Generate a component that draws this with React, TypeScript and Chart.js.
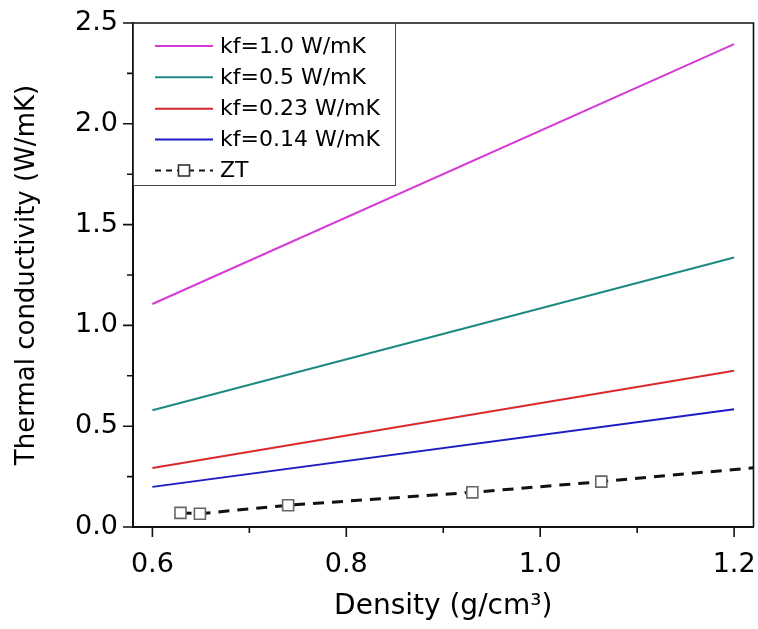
import React, { useEffect, useRef } from 'react';
import { Chart, registerables } from 'chart.js';

Chart.register(...registerables);

// ---- data ----
const densityX = [0.6, 1.2];
const kf10 = [1.106, 2.395];
const kf05 = [0.579, 1.337];
const kf023 = [0.293, 0.775];
const kf014 = [0.199, 0.584];
const ztDensity = [0.629, 0.649, 0.74, 0.93, 1.063];
const ztValues = [0.07, 0.066, 0.108, 0.172, 0.225];
const ztTrendEndX = [1.22];
const ztTrendEndY = [0.294];

const seriesLabels = ['kf=1.0 W/mK', 'kf=0.5 W/mK', 'kf=0.23 W/mK', 'kf=0.14 W/mK', 'ZT'];
const seriesColors = ['#d63ad6', '#1e8a82', '#d82a2a', '#1c1cc4', '#111111'];

const xMajorTicks = [0.6, 0.8, 1.0, 1.2];
const xMinorTicks = [0.7, 0.9, 1.1];
const yMajorTicks = [0, 0.5, 1.0, 1.5, 2.0, 2.5];
const yMinorTicks = [0.25, 0.75, 1.25, 1.75, 2.25];

const FONT = 'DejaVu Sans';

const toPts = (xs: number[], ys: number[]) => xs.map((x, i) => ({ x, y: ys[i] }));

const decorPlugin = {
  id: 'decor',
  afterDraw(chart: any) {
    const { ctx, chartArea: a } = chart;
    const xs = chart.scales.x;
    const ys = chart.scales.y;
    ctx.save();
    // frame top/right
    ctx.strokeStyle = '#111';
    ctx.lineWidth = 1.6;
    ctx.beginPath();
    ctx.moveTo(a.left, a.top);
    ctx.lineTo(a.right, a.top);
    ctx.lineTo(a.right, a.bottom);
    ctx.stroke();
    // ticks
    ctx.lineWidth = 1.6;
    ctx.beginPath();
    xMajorTicks.forEach((v) => {
      const px = xs.getPixelForValue(v);
      ctx.moveTo(px, a.bottom);
      ctx.lineTo(px, a.bottom + 10);
    });
    xMinorTicks.forEach((v) => {
      const px = xs.getPixelForValue(v);
      ctx.moveTo(px, a.bottom);
      ctx.lineTo(px, a.bottom + 6);
    });
    yMajorTicks.forEach((v) => {
      const py = ys.getPixelForValue(v);
      ctx.moveTo(a.left, py);
      ctx.lineTo(a.left - 10, py);
    });
    yMinorTicks.forEach((v) => {
      const py = ys.getPixelForValue(v);
      ctx.moveTo(a.left, py);
      ctx.lineTo(a.left - 6, py);
    });
    ctx.stroke();

    // legend
    const lx = a.left;
    const ly = a.top;
    const lw = 262;
    const lh = 162;
    ctx.fillStyle = '#fff';
    ctx.fillRect(lx, ly, lw, lh);
    ctx.strokeStyle = '#444';
    ctx.lineWidth = 1;
    ctx.strokeRect(lx + 0.5, ly + 0.5, lw, lh);
    const rowY = [46, 77.3, 108.7, 139.5, 170.5];
    ctx.font = `22px "${FONT}"`;
    ctx.textBaseline = 'middle';
    ctx.textAlign = 'left';
    seriesLabels.forEach((label, i) => {
      const y = rowY[i];
      ctx.strokeStyle = seriesColors[i];
      if (i < 4) {
        ctx.lineWidth = 2;
        ctx.setLineDash([]);
        ctx.beginPath();
        ctx.moveTo(155, y);
        ctx.lineTo(213, y);
        ctx.stroke();
      } else {
        ctx.lineWidth = 2;
        ctx.setLineDash([6, 5]);
        ctx.beginPath();
        ctx.moveTo(155, y);
        ctx.lineTo(213, y);
        ctx.stroke();
        ctx.setLineDash([]);
        ctx.fillStyle = '#fff';
        ctx.fillRect(178.5, y - 5.5, 11, 11);
        ctx.strokeStyle = '#333';
        ctx.lineWidth = 1.6;
        ctx.strokeRect(178.5, y - 5.5, 11, 11);
      }
      ctx.fillStyle = '#000';
      ctx.fillText(label, 220, y + 1);
    });
    ctx.restore();
  },
};

export default function App() {
  const ref = useRef<HTMLCanvasElement | null>(null);
  useEffect(() => {
    document.body.style.margin = '0';
    const canvas = ref.current;
    if (!canvas) return;
    Chart.defaults.font.family = FONT;
    const lineDs = (i: number, ys: number[]) => ({
      label: seriesLabels[i],
      data: toPts(densityX, ys),
      borderColor: seriesColors[i],
      backgroundColor: seriesColors[i],
      borderWidth: 2,
      pointRadius: 0,
      fill: false,
      tension: 0,
    });
    const ztLine = toPts([...ztDensity, ...ztTrendEndX], [...ztValues, ...ztTrendEndY]);
    const chart = new Chart(canvas, {
      type: 'scatter',
      data: {
        datasets: [
          {
            label: 'ZT',
            data: ztLine,
            showLine: true,
            borderColor: '#111',
            borderWidth: 3,
            borderDash: [11, 8],
            pointStyle: 'rect',
            pointRadius: (c: any) => (c.dataIndex < ztDensity.length ? 7.8 : 0),
            pointBackgroundColor: '#fff',
            pointBorderColor: '#666',
            pointBorderWidth: 1.6,
            order: 0,
          } as any,
          { ...lineDs(3, kf014), showLine: true, order: 1 },
          { ...lineDs(2, kf023), showLine: true, order: 2 },
          { ...lineDs(1, kf05), showLine: true, order: 3 },
          { ...lineDs(0, kf10), showLine: true, order: 4 },
        ],
      },
      options: {
        responsive: false,
        animation: false,
        devicePixelRatio: 1,
        layout: { autoPadding: false, padding: { top: 23, right: 4.5, bottom: 0, left: 0 } },
        plugins: { legend: { display: false }, tooltip: { enabled: false } },
        scales: {
          x: {
            type: 'linear',
            min: 0.58,
            max: 1.22,
            afterBuildTicks: (s: any) => {
              s.ticks = xMajorTicks.map((v) => ({ value: v }));
            },
            afterFit: (s: any) => {
              s.height = 102;
              s.paddingLeft = 0;
              s.paddingRight = 0;
            },
            grid: {
              drawOnChartArea: false,
              drawTicks: true,
              tickLength: 22,
              tickColor: 'rgba(0,0,0,0)',
            },
            border: { display: true, color: '#111', width: 2 },
            ticks: {
              padding: 0,
              color: '#000',
              font: { size: 27, family: FONT },
              maxRotation: 0,
              autoSkip: false,
              callback: (v: any) => Number(v).toFixed(1),
            },
            title: {
              display: true,
              text: 'Density (g/cm³)',
              color: '#000',
              font: { size: 28, family: FONT },
              padding: { top: 0, bottom: 5 },
            },
          },
          y: {
            type: 'linear',
            min: 0,
            max: 2.5,
            afterBuildTicks: (s: any) => {
              s.ticks = yMajorTicks.map((v) => ({ value: v }));
            },
            afterFit: (s: any) => {
              s.width = 133;
              s.paddingTop = 0;
              s.paddingBottom = 0;
            },
            grid: { drawOnChartArea: false, drawTicks: false },
            border: { display: true, color: '#111', width: 2 },
            ticks: {
              padding: 15,
              color: '#000',
              font: { size: 27, family: FONT },
              autoSkip: false,
              callback: (v: any) => Number(v).toFixed(1),
            },
            title: {
              display: true,
              text: 'Thermal conductivity (W/mK)',
              color: '#000',
              font: { size: 26, family: FONT },
              padding: { top: 12, bottom: 0 },
            },
          },
        },
      },
      plugins: [decorPlugin],
    } as any);
    return () => chart.destroy();
  }, []);
  return (
    <div style={{ width: 758, height: 629 }}>
      <canvas ref={ref} width={758} height={629} style={{ display: 'block' }} />
    </div>
  );
}
